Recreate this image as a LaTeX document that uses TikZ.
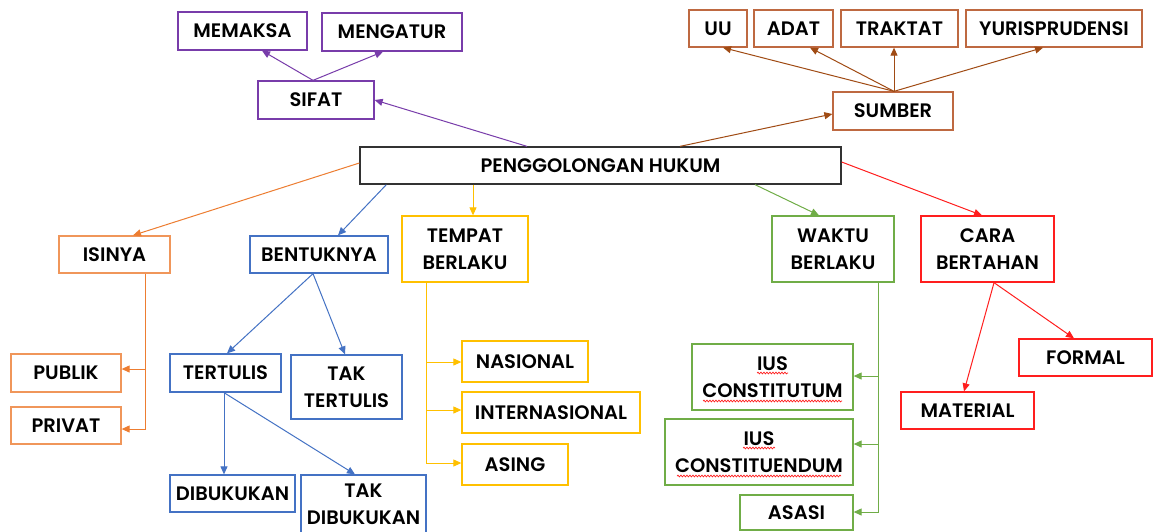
\documentclass[tikz,border=0pt]{standalone}
\usepackage{fontspec}
\newfontfamily\lblfont{Poppins}[UprightFont=* SemiBold]
\usetikzlibrary{arrows.meta,decorations.pathmorphing}
\definecolor{cpurple}{RGB}{120,60,170}
\definecolor{cbrownbox}{RGB}{190,105,65}
\definecolor{cbrown}{RGB}{160,75,20}
\definecolor{corangebox}{RGB}{240,150,90}
\definecolor{corange}{RGB}{237,125,49}
\definecolor{cblue}{RGB}{68,114,196}
\definecolor{cyellow}{RGB}{255,192,0}
\definecolor{cgreen}{RGB}{112,173,71}
\definecolor{cred}{RGB}{255,30,30}
\definecolor{cdark}{RGB}{50,50,50}
\begin{document}
\begin{tikzpicture}[x=1pt,y=-1pt,
  bx/.style={draw=#1,line width=1.3pt,fill=white,inner sep=0pt,align=center,
    font=\lblfont\fontsize{19.5}{27.5}\selectfont,text=black},
  sz/.style 2 args={minimum width=#1pt,minimum height=#2pt},
  ar/.style={draw=#1,line width=1pt,-{Triangle[length=8pt,width=7pt]}},
  sq/.style={draw=cred,line width=0.7pt,decorate,decoration={snake,segment length=3pt,amplitude=0.9pt}}]
\useasboundingbox (0,0) rectangle (1155,531);
\fill[white] (0,0) rectangle (1155,531);
% nodes
\node[bx=cpurple,sz={129}{38}] (memaksa) at (242.5,31) {MEMAKSA};
\node[bx=cpurple,sz={140}{38}] (mengatur) at (392,32) {MENGATUR};
\node[bx=cpurple,sz={116}{38}] (sifat) at (316,100) {SIFAT};
\node[bx=cdark,sz={481}{37}] (main) at (600.5,165.5) {PENGGOLONGAN HUKUM};
\node[bx=cbrownbox,sz={58}{37}] (uu) at (718,28.5) {UU};
\node[bx=cbrownbox,sz={79}{37}] (adat) at (793.5,28.5) {ADAT};
\node[bx=cbrownbox,sz={117}{37}] (traktat) at (899.5,28.5) {TRAKTAT};
\node[bx=cbrownbox,sz={176}{37}] (yuris) at (1054,28.5) {YURISPRUDENSI};
\node[bx=cbrownbox,sz={120}{38}] (sumber) at (893,111) {SUMBER};
\node[bx=corangebox,sz={111}{37}] (isinya) at (114.5,254.5) {ISINYA};
\node[bx=cblue,sz={138}{37}] (bentuk) at (319,254.5) {BENTUKNYA};
\node[bx=cyellow,sz={126}{66}] (tempat) at (465,249) {TEMPAT\\BERLAKU};
\node[bx=cgreen,sz={122}{66}] (waktu) at (833,249) {WAKTU\\BERLAKU};
\node[bx=cred,sz={133}{66}] (cara) at (987.5,249) {CARA\\BERTAHAN};
\node[bx=corangebox,sz={110}{38}] (publik) at (66,373) {PUBLIK};
\node[bx=corangebox,sz={110}{37}] (privat) at (66,425.5) {PRIVAT};
\node[bx=cblue,sz={111}{38}] (tertulis) at (225.5,373) {TERTULIS};
\node[bx=cblue,sz={111}{64}] (taktert) at (346.5,387) {TAK\\TERTULIS};
\node[bx=cblue,sz={125}{37}] (dibuk) at (232.5,493.5) {DIBUKUKAN};
\node[bx=cblue,sz={125}{58}] (takdib) at (363.5,504) {TAK\\DIBUKUKAN};
\node[bx=cyellow,sz={126}{41}] (nasional) at (525,361.5) {NASIONAL};
\node[bx=cyellow,sz={178}{41}] (internas) at (551,412.5) {INTERNASIONAL};
\node[bx=cyellow,sz={106}{41}] (asing) at (515,464.5) {ASING};
\node[bx=cgreen,sz={161}{66}] (iusct) at (772.5,377) {IUS\\CONSTITUTUM};
\node[bx=cgreen,sz={188}{66}] (iuscd) at (759,452) {IUS\\CONSTITUENDUM};
\node[bx=cgreen,sz={113}{35}] (asasi) at (796.5,512.5) {ASASI};
\node[bx=cred,sz={133}{37}] (formal) at (1085.5,357.5) {FORMAL};
\node[bx=cred,sz={133}{37}] (material) at (967.5,410.5) {MATERIAL};
% spell-check underlines
\draw[sq] (757,373) -- (788,373);
\draw[sq] (703,401) -- (842,401);
\draw[sq] (743,448) -- (775,448);
\draw[sq] (677,476) -- (841,476);
% connectors
\draw[ar=cpurple] ([xshift=-73.5pt]main.north) -- (sifat.east);
\draw[ar=cpurple] ([xshift=-3pt]sifat.north) -- ([xshift=19.5pt]memaksa.south);
\draw[ar=cpurple] ([xshift=-3pt]sifat.north) -- ([xshift=-9pt]mengatur.south);
\draw[ar=cbrown] ([xshift=79.5pt]main.north) -- ([yshift=-3pt]sumber.west);
\draw[ar=cbrown] ([xshift=1pt]sumber.north) -- ([xshift=5pt]uu.south);
\draw[ar=cbrown] ([xshift=1pt]sumber.north) -- ([xshift=16.5pt]adat.south);
\draw[ar=cbrown] ([xshift=1pt]sumber.north) -- ([xshift=-5.5pt]traktat.south);
\draw[ar=cbrown] ([xshift=1pt]sumber.north) -- ([xshift=-11pt]yuris.south);
\draw[ar=corange] ([yshift=2.5pt]main.west) -- ([xshift=18.5pt]isinya.north);
\draw[ar=cblue] ([xshift=27pt]main.south west) -- ([xshift=19pt]bentuk.north);
\draw[ar=cyellow] ([xshift=-127.5pt]main.south) -- ([xshift=8pt]tempat.north);
\draw[ar=cgreen] ([xshift=154.5pt]main.south) -- ([xshift=-14pt]waktu.north);
\draw[ar=cred] ([yshift=3.5pt]main.east) -- ([xshift=-5.5pt]cara.north);
% isinya
\coordinate (isj) at ([xshift=30.5pt]isinya.south);
\draw[ar=corange] (isj) |- ([yshift=-3.5pt]privat.east);
\draw[ar=corange] ([yshift=4pt]publik.east -| isj) -- ([yshift=4pt]publik.east);
% bentuk
\draw[ar=cblue] ([xshift=-6pt]bentuk.south) -- ([xshift=1.5pt]tertulis.north);
\draw[ar=cblue] ([xshift=-6pt]bentuk.south) -- ([xshift=-1.5pt]taktert.north);
\draw[ar=cblue] ([xshift=-1.5pt]tertulis.south) -- ([xshift=-8.5pt]dibuk.north);
\draw[ar=cblue] ([xshift=-1.5pt]tertulis.south) -- ([xshift=-8.5pt]takdib.north);
% tempat
\coordinate (tj) at ([xshift=-39pt]tempat.south);
\draw[ar=cyellow] (tj) |- ([yshift=1.5pt]asing.west);
\draw[ar=cyellow] ([yshift=-0.5pt]nasional.west -| tj) -- ([yshift=-0.5pt]nasional.west);
\draw[ar=cyellow] ([yshift=2.5pt]internas.west -| tj) -- ([yshift=2.5pt]internas.west);
% waktu
\coordinate (wj) at ([xshift=45pt]waktu.south);
\draw[ar=cgreen] (wj) |- ([yshift=0.5pt]asasi.east);
\draw[ar=cgreen] ([yshift=1pt]iusct.east -| wj) -- ([yshift=1pt]iusct.east);
\draw[ar=cgreen] ([yshift=8pt]iuscd.east -| wj) -- ([yshift=8pt]iuscd.east);
% cara
\draw[ar=cred] ([xshift=6.5pt]cara.south) -- ([xshift=-3.5pt]material.north);
\draw[ar=cred] ([xshift=6.5pt]cara.south) -- ([xshift=-11.5pt]formal.north);
\end{tikzpicture}
\end{document}
